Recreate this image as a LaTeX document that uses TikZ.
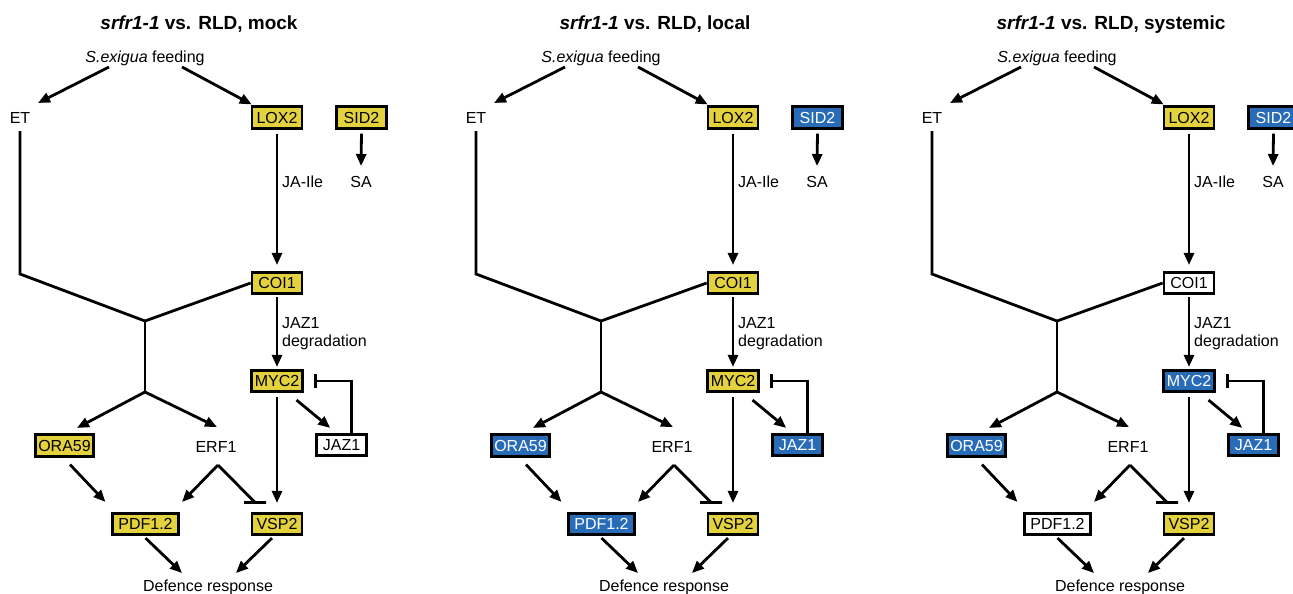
\documentclass[tikz,border=0pt]{standalone}
\usepackage{fontspec}
\setmainfont{Liberation Sans}
\usetikzlibrary{arrows.meta,calc}
\definecolor{ylw}{RGB}{228,209,62}
\definecolor{blu}{RGB}{40,108,184}
\tikzset{
  lbl/.style={font=\fontsize{16}{18}\selectfont, inner sep=0pt, anchor=base},
  box/.style={draw, line width=2.6pt, font=\fontsize{16}{18}\selectfont,
    minimum width=50pt, minimum height=21.5pt, inner xsep=3pt, inner ysep=0pt,
    text height=11.5pt, text depth=0pt},
  yel/.style={box, fill=ylw},
  blu/.style={box, fill=blu, text=white},
  wht/.style={box, fill=white},
  arr/.style={line width=2.8pt, -{Triangle[length=12pt,width=10pt]}},
  ln/.style={line width=2.8pt},
}
\newcommand{\drawpanel}[3]{%
\begin{scope}[xshift=#1pt, name prefix=#2-]
  \node[font=\fontsize{19}{22}\selectfont\bfseries, inner sep=0pt, anchor=base] (title) at (199,30) {\textit{srfr1-1} vs. RLD, #3};
  \node[lbl] (feed) at (145,63) {\textit{S.exigua} feeding};
  \node[lbl] (ET) at (20,123) {ET};
  \node[cLOX] (LOX) at (277,117.5) {LOX2};
  \node[cSID] (SID) at (361.5,117.5) {SID2};
  \node[lbl] (SA) at (361,187) {SA};
  \node[lbl, anchor=base west] (JAIle) at (282,187) {JA-Ile};
  \node[cCOI] (COI) at (277,283) {COI1};
  \node[font=\fontsize{16}{18}\selectfont, inner sep=0pt, anchor=base west, align=left] (JAZdeg) at (282,346) {JAZ1\\degradation};
  \node[cMYC] (MYC) at (277,381) {MYC2};
  \node[cJAZ] (JAZ) at (341.5,445) {JAZ1};
  \node[cORA, minimum width=58.5pt] (ORA) at (64.5,445.5) {ORA59};
  \node[lbl] (ERF) at (216,452) {ERF1};
  \node[cPDF, minimum width=65.5pt] (PDF) at (145.5,524) {PDF1.2};
  \node[cVSP] (VSP) at (277,524) {VSP2};
  \node[lbl] (DEF) at (208,591) {Defence response};
  \coordinate (J1) at (145,321);
  \coordinate (J2) at (145,392);
  \coordinate (A) at ($(ERF.base)+(2,13)$);
  % connectors
  \draw[arr] ($(feed.base)+(-36,4)$) -- ($(ET.base)+(18,-20)$);
  \draw[arr] ($(feed.base)+(37,4)$) -- ($(LOX.north west)+(1,-1)$);
  \draw[ln] ($(ET.base)+(0,8)$) -- ++(0,143) -- (J1) -- (COI.west);
  \draw[ln] (J1) -- (J2);
  \draw[arr] (J2) -- ($(ORA.north)+(12.5,-5.5)$);
  \draw[arr] (J2) -- ($(ERF.base)+(1,-25)$);
  \draw[arr] (A) -- ($(PDF.north)+(36.5,-10)$);
  \draw[ln] (A) -- ($(VSP.north)+(-22,-9.5)$) ++(-11,0) -- ++(22,0);
  \draw[arr] ($(ORA.south)+(5.5,7)$) -- ($(PDF.north west)+(-6,-10)$);
  \draw[arr] ($(PDF.south)+(0,2)$) -- ($(DEF.base)+(-26,-18)$);
  \draw[arr] ($(VSP.south)+(-5,2)$) -- ($(DEF.base)+(28,-18)$);
  \draw[arr] ($(MYC.south)+(0,4)$) -- ($(VSP.north)+(0,-9)$);
  \draw[arr] ($(COI.south)+(0,2)$) -- ($(MYC.north)+(0,-2)$);
  \draw[arr] ($(LOX.south)+(0,4)$) -- ($(COI.north)+(0,-6)$);
  \draw[arr] ($(SID.south)+(0,4)$) -- ($(SA.base)+(0,-21)$);
  \draw[arr] ($(MYC.south east)+(-7,7)$) -- ($(JAZ.north west)+(15,-5)$);
  \draw[ln] ($(JAZ.north east)+(-16,0)$) |- ($(MYC.east)+(12,0)$);
  \draw[ln] ($(MYC.east)+(12,-7)$) -- ($(MYC.east)+(12,7)$);
\end{scope}}
\begin{document}
\begin{tikzpicture}[x=1pt,y=-1pt]
  \useasboundingbox (0,0) rectangle (1293,594);
  \clip (0,0) rectangle (1293,594);
  \tikzset{cLOX/.style=yel, cSID/.style=yel, cCOI/.style=yel, cMYC/.style=yel,
    cJAZ/.style=wht, cORA/.style=yel, cPDF/.style=yel, cVSP/.style=yel}
  \drawpanel{0}{p1}{mock}
  \tikzset{cLOX/.style=yel, cSID/.style=blu, cCOI/.style=yel, cMYC/.style=yel,
    cJAZ/.style=blu, cORA/.style=blu, cPDF/.style=blu, cVSP/.style=yel}
  \drawpanel{456}{p2}{local}
  \tikzset{cLOX/.style=yel, cSID/.style=blu, cCOI/.style=wht, cMYC/.style=blu,
    cJAZ/.style=blu, cORA/.style=blu, cPDF/.style=wht, cVSP/.style=yel}
  \drawpanel{912}{p3}{systemic}
\end{tikzpicture}
\end{document}
